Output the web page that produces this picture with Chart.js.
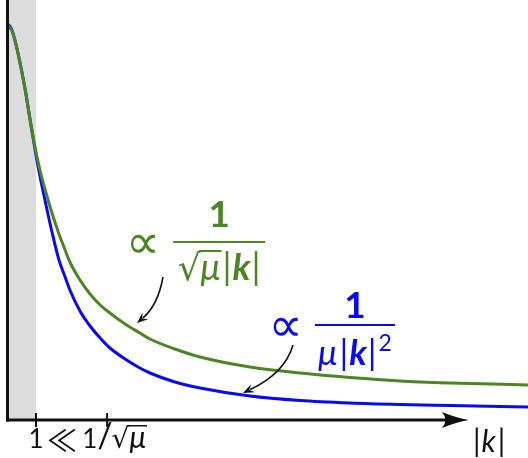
<!DOCTYPE html>
<html>
<head>
<meta charset="utf-8">
<script src="https://cdn.jsdelivr.net/npm/chart.js@4"></script>
<style>
  html, body { margin: 0; padding: 0; background: #ffffff; }
  canvas { display: block; }
</style>
</head>
<body>
<canvas id="chart" width="528" height="458"></canvas>
<script>
// |k| sample positions (units where the "1" tick sits at k = 1)
const kValues = [0, 0.14, 0.29, 0.43, 0.61, 0.79, 1.0, 1.14, 1.32, 1.57, 1.82, 2.04, 2.21, 2.57, 2.93, 3.29, 3.64, 4.18, 4.71, 5.07, 5.96, 6.86, 8.64, 10.43, 12.21, 14.0, 15.79, 18.57];
// slowly decaying response, ∝ 1/(√μ|k|) at large |k|
const greenCurve = [3.94, 3.89, 3.75, 3.57, 3.31, 3.00, 2.68, 2.50, 2.31, 2.07, 1.86, 1.70, 1.58, 1.40, 1.26, 1.15, 1.07, 0.96, 0.87, 0.81, 0.71, 0.63, 0.53, 0.47, 0.425, 0.39, 0.37, 0.35];
// fast decaying response, ∝ 1/(μ|k|²) at large |k|
const blueCurve = [3.96, 3.90, 3.75, 3.57, 3.31, 3.00, 2.65, 2.44, 2.20, 1.88, 1.60, 1.43, 1.30, 1.09, 0.94, 0.82, 0.72, 0.61, 0.52, 0.47, 0.38, 0.32, 0.24, 0.195, 0.17, 0.155, 0.145, 0.13];
// tick positions on the |k| axis: 1 and 1/√μ
const tickValues = [1, 3.54];
// shaded small-|k| band
const shadedRange = [0, 1];

const GREEN = '#4b8524';
const BLUE = '#0a0af0';
const INK = '#111111';
const AXIS_END_K = 16.46;

const SANS = 'Lato, "DejaVu Sans", sans-serif';
const MATH = '"DejaVu Sans", sans-serif';
const THIN = '"Noto Sans CJK JP", "DejaVu Sans", sans-serif';

function toPoints(xs, ys) { return xs.map((x, i) => ({ x: x, y: ys[i] })); }

function drawRuns(ctx, runs, x, base, align) {
  let total = 0;
  const widths = runs.map(r => { ctx.font = r.font; const w = ctx.measureText(r.t).width; total += w + (r.gap || 0); return w; });
  let cx = align === 'center' ? x - total / 2 : x;
  const pos = [];
  runs.forEach((r, i) => {
    ctx.font = r.font;
    ctx.fillStyle = r.color;
    ctx.textBaseline = 'alphabetic';
    ctx.textAlign = 'left';
    ctx.fillText(r.t, cx, base - (r.rise || 0));
    const m = ctx.measureText(r.t);
    pos.push({ x: cx, w: widths[i], asc: m.actualBoundingBoxAscent, desc: m.actualBoundingBoxDescent });
    cx += widths[i] + (r.gap || 0);
  });
  return pos;
}

// draw a single glyph with its ink box centred on (cx, cy)
function glyphCentered(ctx, t, font, color, cx, cy) {
  ctx.font = font;
  ctx.fillStyle = color;
  ctx.textAlign = 'left';
  ctx.textBaseline = 'alphabetic';
  const m = ctx.measureText(t);
  const w = m.actualBoundingBoxLeft + m.actualBoundingBoxRight;
  const h = m.actualBoundingBoxAscent + m.actualBoundingBoxDescent;
  ctx.fillText(t, cx - w / 2 + m.actualBoundingBoxLeft, cy + h / 2 - m.actualBoundingBoxDescent);
}

function radicalBar(ctx, p, color, toX, lw) {
  ctx.strokeStyle = color;
  ctx.lineWidth = lw;
  ctx.beginPath();
  const y = p.base - p.asc + lw / 2;
  ctx.moveTo(p.x + p.w - 1.5, y);
  ctx.lineTo(toX, y);
  ctx.stroke();
}

function curvedArrow(ctx, x0, y0, cxp, cyp, x1, y1) {
  ctx.strokeStyle = INK;
  ctx.fillStyle = INK;
  ctx.lineWidth = 1.6;
  const ang = Math.atan2(y1 - cyp, x1 - cxp);
  const L = 11, W = 4.5;
  const bx = x1 - Math.cos(ang) * (L - 3), by = y1 - Math.sin(ang) * (L - 3);
  ctx.beginPath();
  ctx.moveTo(x0, y0);
  ctx.quadraticCurveTo(cxp, cyp, bx, by);
  ctx.stroke();
  const px = -Math.sin(ang), py = Math.cos(ang);
  const rx = x1 - Math.cos(ang) * L, ry = y1 - Math.sin(ang) * L;
  ctx.beginPath();
  ctx.moveTo(x1, y1);
  ctx.lineTo(rx + px * W, ry + py * W);
  ctx.lineTo(x1 - Math.cos(ang) * (L - 4), y1 - Math.sin(ang) * (L - 4));
  ctx.lineTo(rx - px * W, ry - py * W);
  ctx.closePath();
  ctx.fill();
}

const decorations = {
  id: 'decorations',
  beforeDatasetsDraw(chart) {
    const { ctx, chartArea, scales: { x, y } } = chart;
    const x0 = x.getPixelForValue(shadedRange[0]);
    const x1 = x.getPixelForValue(shadedRange[1]);
    ctx.save();
    ctx.fillStyle = '#dcdcdc';
    ctx.fillRect(x0, chartArea.top, x1 - x0, y.getPixelForValue(0) - chartArea.top);
    ctx.restore();
  },
  afterDatasetsDraw(chart) {
    const { ctx, chartArea, scales: { x, y } } = chart;
    const ox = x.getPixelForValue(0) - 0.5;
    const oy = y.getPixelForValue(0);
    ctx.save();

    // vertical axis
    ctx.strokeStyle = INK;
    ctx.lineWidth = 3;
    ctx.beginPath();
    ctx.moveTo(ox, chartArea.top);
    ctx.lineTo(ox, oy + 1.5);
    ctx.stroke();

    // horizontal axis with arrow head
    const tipX = x.getPixelForValue(AXIS_END_K);
    ctx.beginPath();
    ctx.moveTo(ox - 1.5, oy);
    ctx.lineTo(tipX - 20, oy);
    ctx.stroke();
    ctx.fillStyle = INK;
    ctx.beginPath();
    ctx.moveTo(tipX, oy);
    ctx.quadraticCurveTo(tipX - 12, oy - 2, tipX - 27, oy - 8);
    ctx.quadraticCurveTo(tipX - 20, oy, tipX - 27, oy + 8);
    ctx.quadraticCurveTo(tipX - 12, oy + 2, tipX, oy);
    ctx.closePath();
    ctx.fill();

    // tick marks
    ctx.lineWidth = 2;
    tickValues.forEach(v => {
      const tx = x.getPixelForValue(v);
      ctx.beginPath();
      ctx.moveTo(tx, oy - 7);
      ctx.lineTo(tx, oy + 7);
      ctx.stroke();
    });

    // tick labels: 1 ≪ 1/√μ
    const t1 = x.getPixelForValue(tickValues[0]);
    const t2 = x.getPixelForValue(tickValues[1]);
    const base = oy + 28;
    drawRuns(ctx, [{ t: '1', font: '26px ' + SANS, color: INK }], t1, base, 'center');
    glyphCentered(ctx, '≪', '30px ' + THIN, INK, 62, base - 8);
    const r2 = drawRuns(ctx, [
      { t: '1', font: '26px ' + SANS, color: INK, gap: 0 },
      { t: '/', font: '34px ' + SANS, color: INK, gap: -1 },
      { t: '√', font: '28px ' + MATH, color: INK },
      { t: 'μ', font: 'italic 30px ' + SANS, color: INK }
    ], t2 - 25, base, 'left');
    r2[2].base = base;
    radicalBar(ctx, r2[2], INK, r2[3].x + r2[3].w + 1, 1.5);

    // |k| axis title
    drawRuns(ctx, [
      { t: '|', font: '30px ' + SANS, color: INK, gap: 1 },
      { t: 'k', font: 'italic 30px ' + SANS, color: INK, gap: 2 },
      { t: '|', font: '30px ' + SANS, color: INK }
    ], tipX + 4, oy + 32, 'left');

    // green annotation ∝ 1/(√μ|k|)
    const gx = x.getPixelForValue(7.54), gy = y.getPixelForValue(1.78);
    glyphCentered(ctx, '∝', '48px ' + MATH, GREEN, gx - 76, gy + 1);
    drawRuns(ctx, [{ t: '1', font: 'bold 37px ' + SANS, color: GREEN }], gx, gy - 15, 'center');
    ctx.fillStyle = GREEN;
    ctx.fillRect(gx - 46, gy - 1, 92, 2);
    const gb = gy + 38;
    const gr = drawRuns(ctx, [
      { t: '√', font: '36px ' + MATH, color: GREEN },
      { t: 'μ', font: 'italic 36px ' + SANS, color: GREEN, gap: 2 },
      { t: '|', font: '36px ' + SANS, color: GREEN, gap: 1 },
      { t: 'k', font: 'italic bold 36px ' + SANS, color: GREEN, gap: 1 },
      { t: '|', font: '36px ' + SANS, color: GREEN }
    ], gx, gb, 'center');
    gr[0].base = gb;
    radicalBar(ctx, gr[0], GREEN, gr[1].x + gr[1].w + 1, 2);

    // blue annotation ∝ 1/(μ|k|²)
    const bx = x.getPixelForValue(12.39), by = y.getPixelForValue(0.95);
    glyphCentered(ctx, '∝', '48px ' + MATH, BLUE, bx - 69, by + 1);
    drawRuns(ctx, [{ t: '1', font: 'bold 37px ' + SANS, color: BLUE }], bx, by - 7, 'center');
    ctx.fillStyle = BLUE;
    ctx.fillRect(bx - 40, by - 1, 80, 2);
    drawRuns(ctx, [
      { t: 'μ', font: 'italic 35px ' + SANS, color: BLUE, gap: 2 },
      { t: '|', font: '35px ' + SANS, color: BLUE, gap: 1 },
      { t: 'k', font: 'italic bold 35px ' + SANS, color: BLUE, gap: 1 },
      { t: '|', font: '35px ' + SANS, color: BLUE, gap: 2 },
      { t: '2', font: '23px ' + SANS, color: BLUE, rise: 14 }
    ], bx, by + 40, 'center');

    // pointer arrows
    curvedArrow(ctx, 163, 277, 158, 305, 137, 323);
    curvedArrow(ctx, 293, 345, 285, 373, 243, 393);

    ctx.restore();
  }
};

new Chart(document.getElementById('chart'), {
  type: 'line',
  data: {
    datasets: [
      { data: toPoints(kValues, greenCurve), borderColor: GREEN, borderWidth: 3, pointRadius: 0, cubicInterpolationMode: 'monotone', fill: false },
      { data: toPoints(kValues, blueCurve), borderColor: BLUE, borderWidth: 3, pointRadius: 0, cubicInterpolationMode: 'monotone', fill: false }
    ]
  },
  options: {
    responsive: false,
    animation: false,
    devicePixelRatio: 1,
    layout: { padding: { left: 8, right: 0, top: 0, bottom: 38 } },
    plugins: { legend: { display: false }, tooltip: { enabled: false } },
    scales: {
      x: { type: 'linear', min: 0, max: 18.57, display: false },
      y: { type: 'linear', min: 0, max: 4.2, display: false }
    }
  },
  plugins: [decorations]
});
</script>
</body>
</html>
